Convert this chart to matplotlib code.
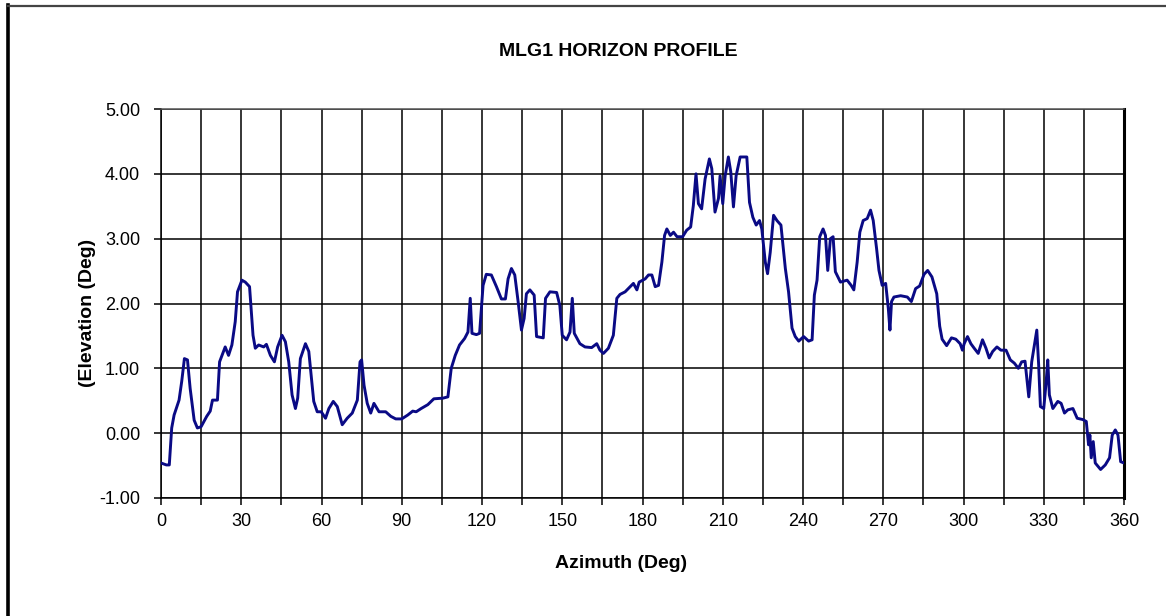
import matplotlib
matplotlib.use("Agg")
import matplotlib.pyplot as plt
from matplotlib.lines import Line2D

azimuth = [0, 2, 3.1, 4, 4.9, 6.75, 7.75, 8.75, 9.9, 10.9, 12.4, 13.6, 15, 17.1, 18.4, 19.25,
           21.1, 21.9, 24, 25.25, 26.5, 27.75, 28.6, 30.25, 31.5, 33.1, 34.4, 35.25, 36.5, 38.4,
           39.4, 40.9, 42.4, 43.6, 45.25, 46.5, 47.75, 49, 50.25, 51.1, 52.1, 54, 55.25, 57.1,
           58.4, 59.9, 61.5, 62.75, 64.4, 65.9, 67.75, 69.6, 71.5, 73.4, 74.4, 75, 75.9, 77.1,
           78.4, 79.6, 81.5, 84, 85.9, 87.75, 90, 92.25, 94.1, 95.4, 97.25, 99.75, 102, 105.4,
           107.25, 108.5, 110, 111.6, 113.5, 114.75, 115.6, 116.25, 117.9, 119.1, 120.4, 121.6,
           123.5, 125.4, 127.25, 128.75, 129.75, 131, 132.25, 133.5, 134.75, 135.75, 136.6,
           137.9, 139.5, 140.4, 142.9, 143.75, 145.4, 147.9, 149.1, 150, 151.6, 152.9, 153.75,
           154.5, 156.6, 158.5, 161, 162.9, 164.1, 165.4, 167.25, 169.1, 170.4, 171.6, 173.5,
           175.4, 176.6, 177.9, 178.75, 181, 182.25, 183.5, 184.75, 186, 187.25, 188.25, 189.1,
           190.4, 191.6, 192.9, 195, 196.5, 198, 199, 200, 200.9, 202.1, 203.4, 205, 205.9,
           207.1, 208.4, 209, 210, 210.9, 212.1, 213, 214, 215, 216.5, 219, 220, 221.25, 222.5,
           223.75, 224.6, 225.9, 226.75, 227.75, 229, 230.25, 231.75, 233.4, 234.6, 235.9,
           237.1, 238.4, 240.25, 242.1, 243.4, 244.25, 245.25, 246.25, 247.5, 248.4, 249.25,
           250.25, 251.25, 252.1, 254, 256.5, 258, 259, 260.25, 261.25, 262.5, 264, 265.25,
           266.25, 267.5, 268.4, 269.6, 270.9, 271.9, 272.5, 273.1, 274, 276.5, 279, 280.5,
           282.1, 283.6, 285.25, 286.6, 288.2, 290, 291.1, 292, 293.7, 295.5, 297.1, 298.75,
           299.6, 300.25, 301.5, 302.75, 304, 305.5, 307.1, 308.4, 309.6, 310.9, 312.5, 314,
           315.9, 317.5, 319, 320.5, 321.75, 323, 324.4, 325.5, 326.5, 327.4, 328.1, 328.75,
           330, 330.9, 331.5, 332.1, 333.4, 335.25, 336.5, 337.75, 339, 340.9, 342.5, 344.6,
           345.9, 346.75, 347.25, 347.75, 348.5, 349.25, 351.25, 353, 354.6, 355.6, 356.75,
           357.75, 358.75, 360]

elevation = [-0.46, -0.49, -0.49, 0.08, 0.28, 0.51, 0.80, 1.15, 1.13, 0.69, 0.20, 0.08, 0.10,
             0.26, 0.34, 0.51, 0.51, 1.10, 1.33, 1.20, 1.36, 1.72, 2.18, 2.36, 2.33, 2.26, 1.51,
             1.31, 1.36, 1.33, 1.37, 1.20, 1.10, 1.33, 1.51, 1.41, 1.10, 0.59, 0.38, 0.54, 1.15,
             1.38, 1.26, 0.49, 0.33, 0.33, 0.23, 0.38, 0.49, 0.41, 0.13, 0.23, 0.31, 0.51, 1.10,
             1.13, 0.74, 0.46, 0.31, 0.46, 0.33, 0.33, 0.26, 0.22, 0.22, 0.28, 0.34, 0.33, 0.38,
             0.44, 0.53, 0.54, 0.56, 1.00, 1.20, 1.36, 1.46, 1.56, 2.08, 1.54, 1.52, 1.54, 2.28,
             2.45, 2.44, 2.26, 2.07, 2.07, 2.38, 2.54, 2.44, 2.03, 1.59, 1.77, 2.15, 2.21, 2.13,
             1.49, 1.47, 2.08, 2.18, 2.17, 1.97, 1.51, 1.44, 1.56, 2.08, 1.54, 1.38, 1.33, 1.32,
             1.38, 1.28, 1.23, 1.31, 1.51, 2.08, 2.14, 2.18, 2.26, 2.31, 2.21, 2.33, 2.38, 2.44,
             2.44, 2.26, 2.28, 2.64, 3.05, 3.15, 3.05, 3.10, 3.03, 3.03, 3.13, 3.18, 3.51, 4.00,
             3.54, 3.46, 3.92, 4.23, 4.08, 3.41, 3.62, 3.97, 3.54, 3.97, 4.26, 4.03, 3.49, 3.97,
             4.26, 4.26, 3.56, 3.33, 3.21, 3.28, 3.15, 2.64, 2.46, 2.79, 3.36, 3.28, 3.21, 2.54,
             2.18, 1.62, 1.49, 1.42, 1.49, 1.42, 1.44, 2.13, 2.36, 3.03, 3.15, 3.05, 2.51, 3.00,
             3.03, 2.49, 2.33, 2.36, 2.28, 2.21, 2.64, 3.10, 3.28, 3.31, 3.44, 3.28, 2.85, 2.51,
             2.28, 2.31, 1.92, 1.59, 2.03, 2.10, 2.12, 2.10, 2.03, 2.23, 2.27, 2.45, 2.51, 2.41,
             2.15, 1.65, 1.45, 1.35, 1.47, 1.45, 1.38, 1.28, 1.38, 1.49, 1.38, 1.31, 1.23, 1.44,
             1.31, 1.16, 1.26, 1.33, 1.28, 1.28, 1.13, 1.08, 1.00, 1.10, 1.11, 0.56, 1.10, 1.36,
             1.59, 1.05, 0.41, 0.38, 0.79, 1.13, 0.59, 0.38, 0.49, 0.46, 0.31, 0.36, 0.38, 0.23,
             0.21, 0.18, -0.18, -0.03, -0.38, -0.13, -0.46, -0.56, -0.49, -0.38, -0.03, 0.05,
             -0.03, -0.44, -0.46]

x_major = [0, 30, 60, 90, 120, 150, 180, 210, 240, 270, 300, 330, 360]
x_minor = [15, 45, 75, 105, 135, 165, 195, 225, 255, 285, 315, 345]
y_ticks = [-1, 0, 1, 2, 3, 4, 5]
y_labels = ["-1.00", "0.00", "1.00", "2.00", "3.00", "4.00", "5.00"]

title = "MLG1 HORIZON PROFILE"
xlabel = "Azimuth (Deg)"
ylabel = "(Elevation (Deg)"

plt.rcParams['font.family'] = ['Liberation Sans', 'DejaVu Sans']

W, H = 1166, 616
fig = plt.figure(figsize=(W / 100, H / 100), dpi=100)
fig.patch.set_facecolor('white')

# outer frame (partial, as in the reference)
fig.add_artist(Line2D([8 / W, 8 / W], [0, 1 - 5 / H], color='black', lw=2.6,
                      transform=fig.transFigure))
fig.add_artist(Line2D([8 / W, 1], [1 - 5.5 / H, 1 - 5.5 / H], color='#444444', lw=1.6,
                      transform=fig.transFigure))

ax = fig.add_axes([161 / W, 1 - 498 / H, (1124 - 161) / W, (498 - 109) / H])
ax.plot(azimuth, elevation, color='#0a0a85', lw=2.1, solid_joinstyle='round',
        solid_capstyle='round', zorder=3)

ax.set_xlim(0, 360)
ax.set_ylim(-1, 5)
ax.set_xticks(x_major)
ax.set_xticks(x_minor, minor=True)
ax.set_yticks(y_ticks)
ax.set_yticklabels(y_labels)
ax.grid(True, which='both', color='black', lw=1.1, zorder=1)
ax.set_axisbelow(True)

for side in ['top', 'left', 'bottom']:
    ax.spines[side].set_linewidth(1.1)
ax.spines['top'].set_color('#555555')
ax.spines['right'].set_linewidth(2.2)

ax.tick_params(axis='both', which='both', direction='out', length=5, width=1.1,
               color='black', labelsize=13, pad=6)
ax.tick_params(axis='x', which='minor', length=5)
ax.tick_params(axis='y', pad=10)

fig.text(618.5 / W, 1 - 52 / H, title, ha='center', va='center', fontsize=14,
         fontweight='bold')
fig.text(621 / W, 1 - 563 / H, xlabel, ha='center', va='center', fontsize=14,
         fontweight='bold')
fig.text(88 / W, 1 - 313 / H, ylabel, ha='center', va='center', fontsize=14,
         fontweight='bold', rotation=90)

fig.savefig('out.png', dpi=100, facecolor='white')
